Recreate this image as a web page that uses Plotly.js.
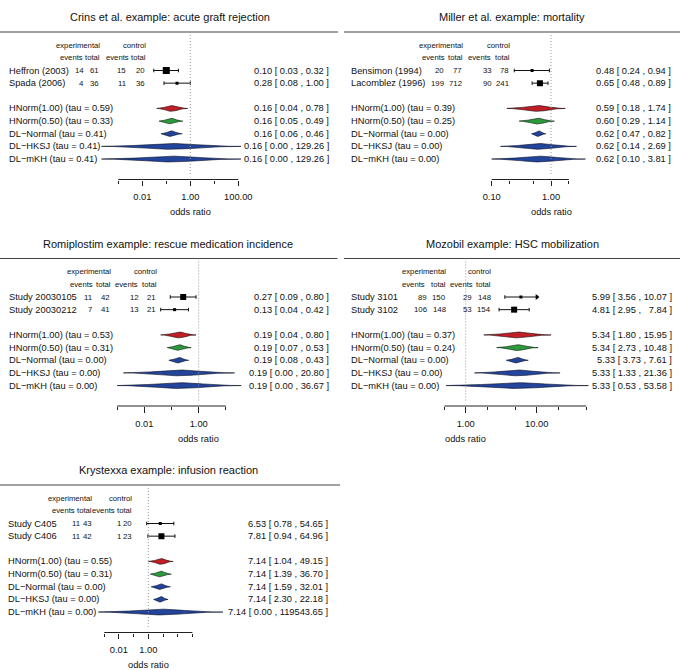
<!DOCTYPE html>
<html><head><meta charset="utf-8">
<script src="https://cdn.plot.ly/plotly-3.0.1.min.js"></script>
<style>html,body{margin:0;padding:0;background:#fff}#chart{width:680px;height:670px}</style>
</head><body><div id="chart"></div>
<script>
// ================= DATA =================
const methodNames = ['HNorm(1.00)', 'HNorm(0.50)', 'DL\u2212Normal', 'DL\u2212HKSJ', 'DL\u2212mKH'];

// --- Crins et al. ---
const crinsTitle = 'Crins et al. example: acute graft rejection';
const crinsStudies = ['Heffron (2003)', 'Spada (2006)'];
const crinsExpEvents = [14, 4];
const crinsExpTotal = [61, 36];
const crinsCtrlEvents = [15, 11];
const crinsCtrlTotal = [20, 36];
const crinsStudyOR = [0.10, 0.28];
const crinsStudyLo = [0.03, 0.08];
const crinsStudyHi = [0.32, 1.00];
const crinsTau = [0.59, 0.33, 0.41, 0.41, 0.41];
const crinsOR = [0.16, 0.16, 0.16, 0.16, 0.16];
const crinsLo = [0.04, 0.05, 0.06, 0.0002, 0.0002];
const crinsHi = [0.78, 0.49, 0.46, 129.26, 129.26];
const crinsMajorTicks = [0.01, 1, 100];
const crinsMajorText = ['0.01', '1.00', '100.00'];
const crinsMinorTicks = [0.001, 0.1, 10];

// --- Miller et al. ---
const millerTitle = 'Miller et al. example: mortality';
const millerStudies = ['Bensimon (1994)', 'Lacomblez (1996)'];
const millerExpEvents = [20, 199];
const millerExpTotal = [77, 712];
const millerCtrlEvents = [33, 90];
const millerCtrlTotal = [78, 241];
const millerStudyOR = [0.48, 0.65];
const millerStudyLo = [0.24, 0.48];
const millerStudyHi = [0.94, 0.89];
const millerTau = [0.39, 0.25, 0.00, 0.00, 0.00];
const millerOR = [0.59, 0.60, 0.62, 0.62, 0.62];
const millerLo = [0.18, 0.29, 0.47, 0.14, 0.10];
const millerHi = [1.74, 1.14, 0.82, 2.69, 3.81];
const millerMajorTicks = [0.1, 1];
const millerMajorText = ['0.10', '1.00'];
const millerMinorTicks = [0.2, 0.5, 2];

// --- Romiplostim ---
const romiTitle = 'Romiplostim example: rescue medication incidence';
const romiStudies = ['Study 20030105', 'Study 20030212'];
const romiExpEvents = [11, 7];
const romiExpTotal = [42, 41];
const romiCtrlEvents = [12, 13];
const romiCtrlTotal = [21, 21];
const romiStudyOR = [0.27, 0.13];
const romiStudyLo = [0.09, 0.04];
const romiStudyHi = [0.80, 0.42];
const romiTau = [0.53, 0.31, 0.00, 0.00, 0.00];
const romiOR = [0.19, 0.19, 0.19, 0.19, 0.19];
const romiLo = [0.04, 0.07, 0.08, 0.0017, 0.001];
const romiHi = [0.80, 0.53, 0.43, 20.80, 36.67];
const romiMajorTicks = [0.01, 1];
const romiMajorText = ['0.01', '1.00'];
const romiMinorTicks = [0.001, 0.1, 10];

// --- Mozobil ---
const mozoTitle = 'Mozobil example: HSC mobilization';
const mozoStudies = ['Study 3101', 'Study 3102'];
const mozoExpEvents = [89, 106];
const mozoExpTotal = [150, 148];
const mozoCtrlEvents = [29, 53];
const mozoCtrlTotal = [148, 154];
const mozoStudyOR = [5.99, 4.81];
const mozoStudyLo = [3.56, 2.95];
const mozoStudyHi = [10.07, 7.84];
const mozoTau = [0.37, 0.24, 0.00, 0.00, 0.00];
const mozoOR = [5.34, 5.34, 5.33, 5.33, 5.33];
const mozoLo = [1.80, 2.73, 3.73, 1.33, 0.53];
const mozoHi = [15.95, 10.48, 7.61, 21.36, 53.58];
const mozoMajorTicks = [1, 10];
const mozoMajorText = ['1.00', '10.00'];
const mozoMinorTicks = [0.5, 2, 5, 20, 50];

// --- Krystexxa ---
const krysTitle = 'Krystexxa example: infusion reaction';
const krysStudies = ['Study C405', 'Study C406'];
const krysExpEvents = [11, 11];
const krysExpTotal = [43, 42];
const krysCtrlEvents = [1, 1];
const krysCtrlTotal = [20, 23];
const krysStudyOR = [6.53, 7.81];
const krysStudyLo = [0.78, 0.94];
const krysStudyHi = [54.65, 64.96];
const krysTau = [0.55, 0.31, 0.00, 0.00, 0.00];
const krysOR = [7.14, 7.14, 7.14, 7.14, 7.14];
const krysLo = [1.04, 1.39, 1.59, 2.30, 0.0004];
const krysHi = [49.15, 36.70, 32.01, 22.18, 119543.65];
const krysMajorTicks = [0.01, 1];
const krysMajorText = ['0.01', '1.00'];
const krysMinorTicks = [0.001, 0.1, 10, 100, 1000];

// ================= STYLE / LAYOUT =================
const W = 680, H = 670;
const FONT = 'Liberation Sans, Arial, Helvetica, sans-serif';
const methodFill = ['#c01f28', '#2c9a3c', '#22449a', '#22449a', '#22449a'];
const methodEdge = ['#1a0303', '#031a06', '#060c24', '#060c24', '#060c24'];
const ROW0 = 70.5, ROWH = 12.65;

const panels = [
  {title: crinsTitle, studies: crinsStudies, ee: crinsExpEvents, et: crinsExpTotal, ce: crinsCtrlEvents, ct: crinsCtrlTotal,
   sOR: crinsStudyOR, sLo: crinsStudyLo, sHi: crinsStudyHi, tau: crinsTau, mOR: crinsOR, mLo: crinsLo, mHi: crinsHi,
   major: crinsMajorTicks, majorText: crinsMajorText, minor: crinsMinorTicks,
   sSize: [7, 3], sArrow: [false, false],
   ox: 0, oy: 0, x1px: 190.3, k: 24, labelX: 6.7, ciX: 331, titleX: 169.5, sep: [0, 338],
   headerRight: [85, 101.7, 131, 148.3], countRight: [85.5, 100.5, 127.5, 147]},
  {title: millerTitle, studies: millerStudies, ee: millerExpEvents, et: millerExpTotal, ce: millerCtrlEvents, ct: millerCtrlTotal,
   sOR: millerStudyOR, sLo: millerStudyLo, sHi: millerStudyHi, tau: millerTau, mOR: millerOR, mLo: millerLo, mHi: millerHi,
   major: millerMajorTicks, majorText: millerMajorText, minor: millerMinorTicks,
   sSize: [3, 6], sArrow: [false, false],
   ox: 340, oy: 0, x1px: 551, k: 59.3, labelX: 349.3, ciX: 673.3, titleX: 512, sep: [344, 680],
   headerRight: [446.7, 465, 493.3, 511.7], countRight: [446, 464.3, 494, 510.7]},
  {title: romiTitle, studies: romiStudies, ee: romiExpEvents, et: romiExpTotal, ce: romiCtrlEvents, ct: romiCtrlTotal,
   sOR: romiStudyOR, sLo: romiStudyLo, sHi: romiStudyHi, tau: romiTau, mOR: romiOR, mLo: romiLo, mHi: romiHi,
   major: romiMajorTicks, majorText: romiMajorText, minor: romiMinorTicks,
   sSize: [6, 3], sArrow: [false, false],
   ox: 0, oy: 226.5, x1px: 198.7, k: 27.2, labelX: 7.3, ciX: 331, titleX: 167.5, sep: [0, 337.5],
   headerRight: [95, 113.3, 140, 159.3], countRight: [93.5, 112, 140.7, 158.3]},
  {title: mozoTitle, studies: mozoStudies, ee: mozoExpEvents, et: mozoExpTotal, ce: mozoCtrlEvents, ct: mozoCtrlTotal,
   sOR: mozoStudyOR, sLo: mozoStudyLo, sHi: mozoStudyHi, tau: mozoTau, mOR: mozoOR, mLo: mozoLo, mHi: mozoHi,
   major: mozoMajorTicks, majorText: mozoMajorText, minor: mozoMinorTicks,
   sSize: [3, 6], sArrow: [true, false],
   ox: 340, oy: 226.5, x1px: 465.7, k: 71, labelX: 349.3, ciX: 674.3, titleX: 512, sep: [344, 680],
   headerRight: [427.3, 448.3, 475, 492.7], countRight: [429.3, 448.3, 474.3, 492.7]},
  {title: krysTitle, studies: krysStudies, ee: krysExpEvents, et: krysExpTotal, ce: krysCtrlEvents, ct: krysCtrlTotal,
   sOR: krysStudyOR, sLo: krysStudyLo, sHi: krysStudyHi, tau: krysTau, mOR: krysOR, mLo: krysLo, mHi: krysHi,
   major: krysMajorTicks, majorText: krysMajorText, minor: krysMinorTicks,
   sSize: [3, 6], sArrow: [false, false],
   ox: 0, oy: 453, x1px: 148.3, k: 14.7, labelX: 6, ciX: 330, titleX: 168.3, sep: [0, 340],
   headerRight: [77.3, 94, 117.3, 134], countRight: [81.7, 94, 123, 134.3]}
];

const px2fx = p => p / W;
const px2fy = p => 1 - p / H;
const f2 = v => v.toFixed(2);
const FS = '\u2007';

function spindle(est, lo, hi, yc, hh) {
  const le = Math.log10(est), ll = Math.log10(lo), lh = Math.log10(hi);
  const n = 50, a = 2.8, g1 = Math.exp(-a * a / 2);
  const prof = t => (Math.exp(-Math.pow(a * t, 2) / 2) - g1) / (1 - g1);
  const xs = [], ys = [];
  for (let j = -n; j <= n; j++) {
    const t = j / n;
    const lx = t < 0 ? le + t * (le - ll) : le + t * (lh - le);
    xs.push(Math.pow(10, lx)); ys.push(yc - hh * prof(Math.abs(t)));
  }
  for (let j = n; j >= -n; j--) {
    const t = j / n;
    const lx = t < 0 ? le + t * (le - ll) : le + t * (lh - le);
    xs.push(Math.pow(10, lx)); ys.push(yc + hh * prof(Math.abs(t)));
  }
  return {xs, ys};
}

const traces = [], shapes = [], annotations = [];
const layout = {
  width: W, height: H, margin: {l: 0, r: 0, t: 0, b: 0},
  paper_bgcolor: '#ffffff', plot_bgcolor: 'rgba(0,0,0,0)', showlegend: false,
  font: {family: FONT, color: '#111', size: 9.3}
};

panels.forEach((P, idx) => {
  const n = idx + 1;
  const xr = n === 1 ? 'x' : 'x' + n, yr = n === 1 ? 'y' : 'y' + n;
  const xkey = n === 1 ? 'xaxis' : 'xaxis' + n, ykey = n === 1 ? 'yaxis' : 'yaxis' + n;
  const dx0 = P.ox + 2, dx1 = P.ox + 336;
  const axisPx = P.oy + 179.5, topPx = P.oy + 25;
  const rowY = px => (px - P.oy - ROW0) / ROWH;

  layout[xkey] = {
    type: 'log', domain: [px2fx(dx0), px2fx(dx1)], anchor: yr,
    range: [(dx0 - P.x1px) / P.k, (dx1 - P.x1px) / P.k],
    showgrid: false, zeroline: false, showline: false,
    tickmode: 'array', tickvals: P.major, ticktext: P.majorText,
    ticks: 'outside', ticklen: 5.5, tickwidth: 1, tickcolor: '#222',
    tickfont: {family: FONT, size: 9.3, color: '#111'}, ticklabelstandoff: 3,
    minor: {tickmode: 'array', tickvals: P.minor, ticks: 'outside', ticklen: 3, tickwidth: 1, tickcolor: '#222', showgrid: false},
    fixedrange: true
  };
  layout[ykey] = {
    domain: [px2fy(axisPx), px2fy(topPx)], anchor: xr,
    range: [rowY(axisPx), rowY(topPx)],
    showgrid: false, zeroline: false, showline: false, showticklabels: false, ticks: '', fixedrange: true
  };

  // title + separator
  annotations.push({xref: 'paper', yref: 'paper', x: px2fx(P.titleX), y: px2fy(P.oy + 17), text: P.title,
    showarrow: false, xanchor: 'center', yanchor: 'middle', font: {size: 11, family: FONT, color: '#111'}});
  shapes.push({type: 'line', xref: 'paper', yref: 'paper', x0: px2fx(P.sep[0]), x1: px2fx(P.sep[1]),
    y0: px2fy(P.oy + 32), y1: px2fy(P.oy + 32), line: {color: '#444', width: 1.2}});

  // axis line and reference line
  const allTicks = P.major.concat(P.minor);
  shapes.push({type: 'line', xref: xr, yref: 'paper', x0: Math.min(...allTicks), x1: Math.max(...allTicks),
    y0: px2fy(axisPx), y1: px2fy(axisPx), line: {color: '#222', width: 1}});
  shapes.push({type: 'line', xref: xr, yref: 'paper', x0: 1, x1: 1,
    y0: px2fy(P.oy + 32), y1: px2fy(P.oy + 174), line: {color: '#9a9a9a', width: 1, dash: '1px,2px'}});

  annotations.push({xref: 'paper', yref: 'paper', x: px2fx(P.x1px), y: px2fy(P.oy + 212), text: 'odds ratio',
    showarrow: false, xanchor: 'center', yanchor: 'middle', font: {size: 9.3, family: FONT, color: '#111'}});

  // headers
  const hfont = {size: 7.7, family: FONT, color: '#111'};
  annotations.push({xref: 'paper', yref: yr, x: px2fx(P.headerRight[1]), y: -2, text: 'experimental', showarrow: false, xanchor: 'right', yanchor: 'middle', font: hfont});
  annotations.push({xref: 'paper', yref: yr, x: px2fx(P.headerRight[3]), y: -2, text: 'control', showarrow: false, xanchor: 'right', yanchor: 'middle', font: hfont});
  ['events', 'total', 'events', 'total'].forEach((h, c) => {
    annotations.push({xref: 'paper', yref: yr, x: px2fx(P.headerRight[c]), y: -1, text: h, showarrow: false, xanchor: 'right', yanchor: 'middle', font: hfont});
  });

  // study rows
  const cfont = {size: 7.8, family: FONT, color: '#111'};
  const lfont = {size: 9.3, family: FONT, color: '#111'};
  const hiStr = P.sHi.map(f2);
  const hiW = Math.max(...hiStr.map(s => s.length));
  P.studies.forEach((s, i) => {
    annotations.push({xref: 'paper', yref: yr, x: px2fx(P.labelX), y: i, text: s, showarrow: false, xanchor: 'left', yanchor: 'middle', font: lfont});
    [P.ee[i], P.et[i], P.ce[i], P.ct[i]].forEach((v, c) => {
      annotations.push({xref: 'paper', yref: yr, x: px2fx(P.countRight[c]), y: i, text: String(v), showarrow: false, xanchor: 'right', yanchor: 'middle', font: cfont});
    });
    const txt = f2(P.sOR[i]) + ' [ ' + f2(P.sLo[i]) + ' , ' + FS.repeat(hiW - hiStr[i].length) + hiStr[i] + ' ]';
    annotations.push({xref: 'paper', yref: yr, x: px2fx(P.ciX), y: i, text: txt, showarrow: false, xanchor: 'right', yanchor: 'middle', font: lfont});
    traces.push({type: 'scatter', mode: 'markers', xaxis: xr, yaxis: yr, x: [P.sOR[i]], y: [i], hoverinfo: 'skip',
      marker: {symbol: 'square', size: P.sSize[i], color: '#000'},
      error_x: {type: 'data', symmetric: false, array: [P.sHi[i] - P.sOR[i]], arrayminus: [P.sOR[i] - P.sLo[i]], color: '#111', thickness: 1, width: 1.8}});
    if (P.sArrow[i]) {
      traces.push({type: 'scatter', mode: 'markers', xaxis: xr, yaxis: yr, x: [P.sHi[i]], y: [i], hoverinfo: 'skip',
        marker: {symbol: 'triangle-right', size: 5, color: '#000'}});
    }
  });

  // method rows
  methodNames.forEach((m, r) => {
    const yi = 3 + r;
    annotations.push({xref: 'paper', yref: yr, x: px2fx(P.labelX), y: yi, text: m + ' (tau = ' + f2(P.tau[r]) + ')', showarrow: false, xanchor: 'left', yanchor: 'middle', font: lfont});
    const txt = f2(P.mOR[r]) + ' [ ' + f2(P.mLo[r]) + ' , ' + f2(P.mHi[r]) + ' ]';
    annotations.push({xref: 'paper', yref: yr, x: px2fx(P.ciX), y: yi, text: txt, showarrow: false, xanchor: 'right', yanchor: 'middle', font: lfont});
    const sp = spindle(P.mOR[r], P.mLo[r], P.mHi[r], yi, 2.9 / ROWH);
    traces.push({type: 'scatter', mode: 'lines', xaxis: xr, yaxis: yr, x: sp.xs, y: sp.ys, fill: 'toself',
      fillcolor: methodFill[r], line: {color: methodEdge[r], width: 0.6}, hoverinfo: 'skip'});
  });
});

layout.shapes = shapes;
layout.annotations = annotations;
Plotly.newPlot('chart', traces, layout, {staticPlot: true, displayModeBar: false});
</script>
</body></html>
